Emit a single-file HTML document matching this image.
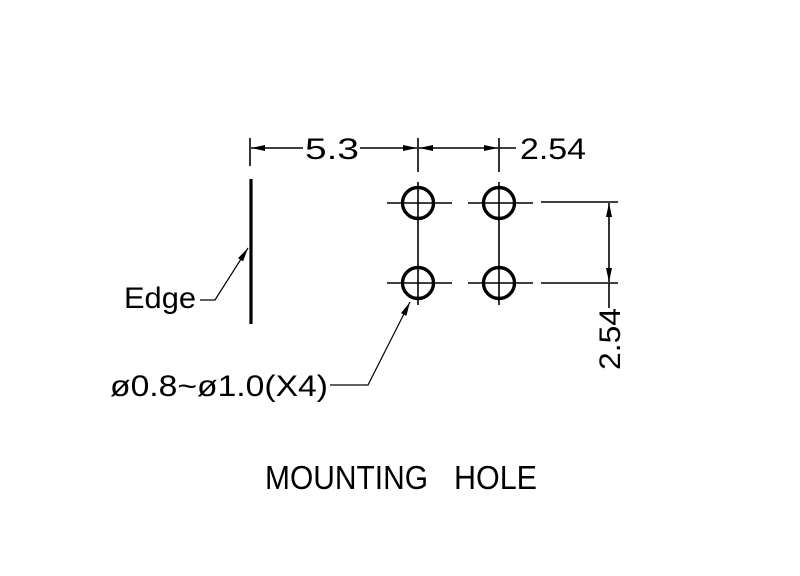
<!DOCTYPE html>
<html><head><style>html,body{margin:0;padding:0;background:#fff}svg{display:block}</style></head>
<body>
<svg width="800" height="576" viewBox="0 0 800 576" xmlns="http://www.w3.org/2000/svg" font-family="Liberation Sans, sans-serif">
<defs>
<marker id="b" viewBox="0 0 14 6" refX="14" refY="3" markerWidth="14" markerHeight="6" markerUnits="userSpaceOnUse" orient="auto-start-reverse"><path d="M0,0L14,3L0,6z" fill="#000"/></marker>
</defs>
<g stroke="#000" stroke-width="1.6" fill="none">
<line x1="250" y1="138" x2="250" y2="166"/>
<line x1="418" y1="138" x2="418" y2="172"/>
<line x1="499" y1="138" x2="499" y2="172"/>
<line x1="251" y1="148" x2="303" y2="148" marker-start="url(#b)"/>
<line x1="360" y1="148" x2="417" y2="148" marker-end="url(#b)"/>
<line x1="419" y1="148" x2="498" y2="148" marker-start="url(#b)" marker-end="url(#b)"/>
<line x1="499" y1="148" x2="516" y2="148"/>
<line x1="418" y1="182" x2="418" y2="305"/>
<line x1="499" y1="182" x2="499" y2="305"/>
<line x1="387" y1="203" x2="452" y2="203"/>
<line x1="468" y1="203" x2="533" y2="203"/>
<line x1="387" y1="283" x2="452" y2="283"/>
<line x1="468" y1="283" x2="533" y2="283"/>
<line x1="541" y1="202" x2="618" y2="202"/>
<line x1="541" y1="283" x2="618" y2="283"/>
<line x1="609" y1="203" x2="609" y2="282" marker-start="url(#b)" marker-end="url(#b)"/>
<line x1="609" y1="283" x2="609" y2="308"/>
<polyline points="200,300 215,300 248,248" marker-end="url(#b)" stroke-width="1.2"/>
<polyline points="330,385 368,385 410,302" marker-end="url(#b)" stroke-width="1.2"/>
</g>
<line x1="251" y1="179" x2="251" y2="324" stroke="#000" stroke-width="3.2"/>
<g stroke="#000" stroke-width="3.4" fill="none">
<circle cx="418" cy="203" r="15.5"/><circle cx="499" cy="203" r="15.5"/>
<circle cx="418" cy="283" r="15.5"/><circle cx="499" cy="283" r="15.5"/>
</g>
<g fill="#000" font-size="30">
<text x="305" y="159" textLength="54" lengthAdjust="spacingAndGlyphs">5.3</text>
<text x="520" y="159" textLength="66" lengthAdjust="spacingAndGlyphs">2.54</text>
<text x="124" y="308" textLength="72" lengthAdjust="spacingAndGlyphs">Edge</text>
<text x="110" y="396" textLength="218" lengthAdjust="spacingAndGlyphs">ø0.8~ø1.0(X4)</text>
<text transform="translate(620,370) rotate(-90)" textLength="62" lengthAdjust="spacingAndGlyphs">2.54</text>
<text x="265" y="489" font-size="33" textLength="163" lengthAdjust="spacingAndGlyphs">MOUNTING</text>
<text x="454" y="489" font-size="33" textLength="83" lengthAdjust="spacingAndGlyphs">HOLE</text>
</g>
</svg>
</body></html>
